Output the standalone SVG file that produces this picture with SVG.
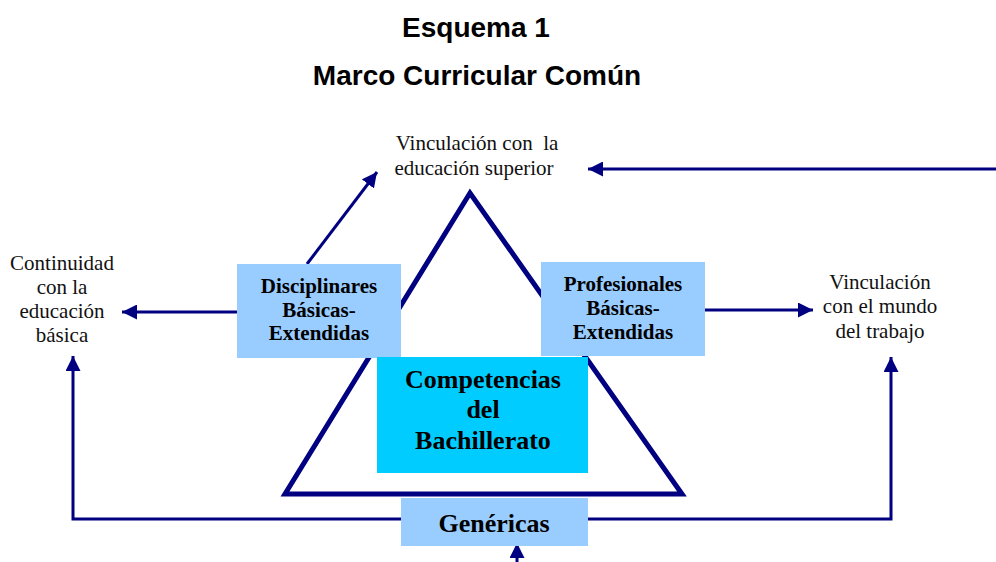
<svg xmlns="http://www.w3.org/2000/svg" width="996" height="562" viewBox="0 0 996 562">
<style>
.t{font-family:"Liberation Serif",serif;font-size:21px;fill:#111;text-anchor:middle}
.b{font-family:"Liberation Serif",serif;font-weight:bold;fill:#000;text-anchor:middle}
.h{font-family:"Liberation Sans",Arial,sans-serif;font-weight:bold;font-size:28px;fill:#000;text-anchor:middle}
.c{stroke:#000080;stroke-width:3;fill:none}
</style>
<defs>
<marker id="ah" viewBox="0 0 10 10" refX="10" refY="5" markerWidth="5" markerHeight="5" orient="auto" markerUnits="strokeWidth">
<path d="M0,0 L10,5 L0,10 z" fill="#000080"/>
</marker>
</defs>
<text class="h" x="476" y="37">Esquema 1</text>
<text class="h" x="477" y="85">Marco Curricular Común</text>
<g id="tri">
<polygon points="470,193 285,494 682,494" fill="none" stroke="#000080" stroke-width="5" stroke-linejoin="miter"/>
</g>
<g id="connectors">
<path class="c" d="M307,264 L377,172" marker-end="url(#ah)"/>
<path class="c" d="M996,169 L588,169" marker-end="url(#ah)"/>
<path class="c" d="M237,312 L122,312" marker-end="url(#ah)"/>
<path class="c" d="M705,310 L813,310" marker-end="url(#ah)"/>
<path class="c" d="M401,519 L73,519 L73,356" marker-end="url(#ah)"/>
<path class="c" d="M588,519 L891,519 L891,357" marker-end="url(#ah)"/>
<path class="c" d="M517,562 L517,543" marker-end="url(#ah)"/>
</g>
<g id="sup">
<text class="t" x="477" y="150" xml:space="preserve">Vinculación con  la</text>
<text class="t" x="474" y="175">educación superior</text>
</g>
<g id="basica">
<text class="t" x="62" y="270">Continuidad</text>
<text class="t" x="62" y="294">con la</text>
<text class="t" x="62" y="318">educación</text>
<text class="t" x="62" y="342">básica</text>
</g>
<g id="trabajo">
<text class="t" x="880" y="289">Vinculación</text>
<text class="t" x="880" y="313">con el mundo</text>
<text class="t" x="880" y="338">del trabajo</text>
</g>
<g id="disciplinares">
<rect x="237" y="264" width="164" height="94" fill="#99CCFF"/>
<text class="b" x="319" y="293" font-size="21">Disciplinares</text>
<text class="b" x="319" y="317" font-size="21">Básicas-</text>
<text class="b" x="319" y="340" font-size="21">Extendidas</text>
</g>
<g id="profesionales">
<rect x="541" y="262" width="164" height="94" fill="#99CCFF"/>
<text class="b" x="623" y="291" font-size="21">Profesionales</text>
<text class="b" x="623" y="315" font-size="21">Básicas-</text>
<text class="b" x="623" y="339" font-size="21">Extendidas</text>
</g>
<g id="competencias">
<rect x="377" y="357" width="211" height="116" fill="#00CCFF"/>
<text class="b" x="483" y="388" font-size="26">Competencias</text>
<text class="b" x="483" y="418" font-size="26">del</text>
<text class="b" x="483" y="449" font-size="26">Bachillerato</text>
</g>
<g id="genericas">
<rect x="401" y="498" width="187" height="48" fill="#99CCFF"/>
<text class="b" x="494" y="532" font-size="26">Genéricas</text>
</g>
</svg>
